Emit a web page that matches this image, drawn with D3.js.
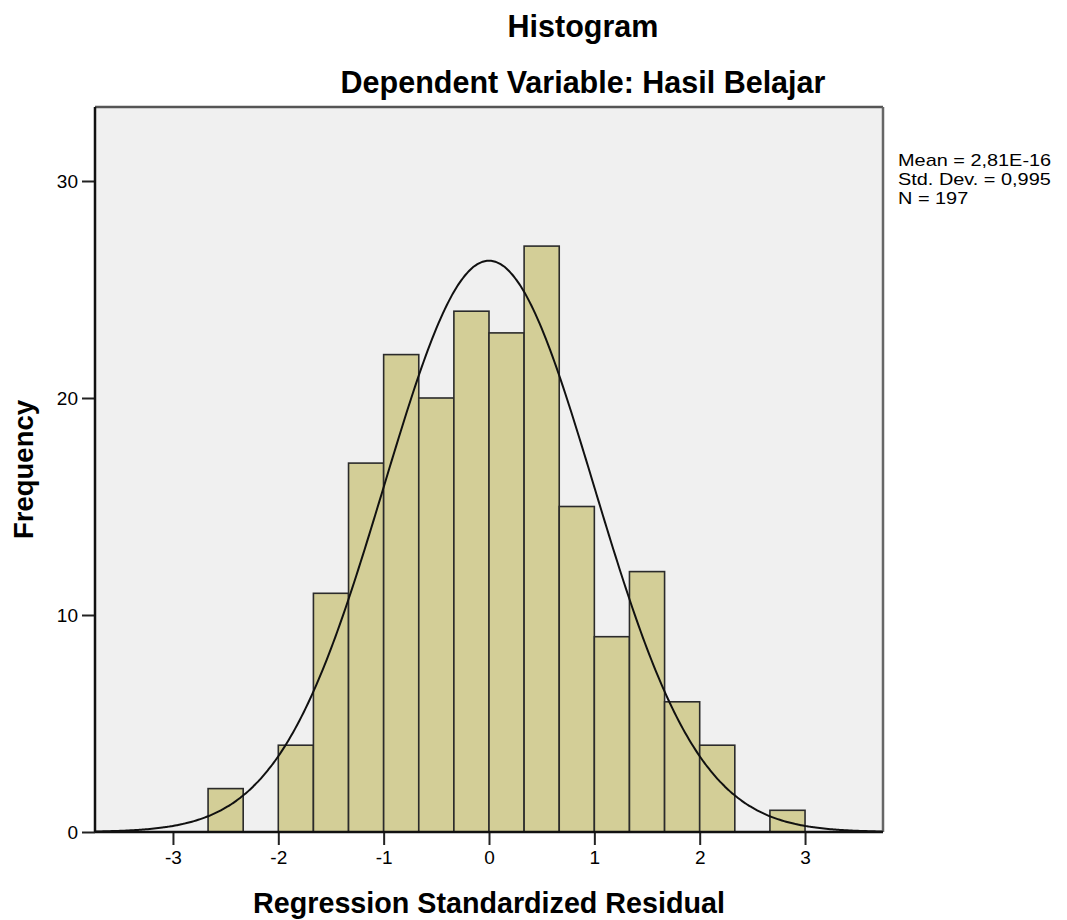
<!DOCTYPE html>
<html>
<head>
<meta charset="utf-8">
<script src="https://cdn.jsdelivr.net/npm/d3@7"></script>
<style>
  body { margin: 0; background: #fff; }
  text { font-family: "Liberation Sans", Arial, sans-serif; fill: #000; }
</style>
</head>
<body>
<div id="chart"></div>
<script>
/* DATA */
const binStart = -8 / 3,
  binWidth = 1 / 3;
// frequency per bin, from -2.667 up to 3.0
const counts = [2, 0, 4, 11, 17, 22, 20, 24, 23, 27, 15, 9, 12, 6, 4, 0, 1];
const xTicks = [-3, -2, -1, 0, 1, 2, 3];
const yTicks = [0, 10, 20, 30];
const statLines = ["Mean = 2,81E-16", "Std. Dev. = 0,995", "N = 197"];
const mean = 2.81e-16, stdDev = 0.995, n = 197;

/* CONSTANTS */
const width = 1067, height = 920,
  plot = { left: 95, right: 883, top: 107, bottom: 832 };

const bins = counts.map((c, i) => ({
  x0: binStart + i * binWidth,
  x1: binStart + (i + 1) * binWidth,
  count: c
}));

const svg = d3.select("#chart").append("svg")
  .attr("width", width)
  .attr("height", height);

// + SCALES
const xScale = d3.scaleLinear()
  .domain([-3.74, 3.74])
  .range([plot.left, plot.right]);

const yScale = d3.scaleLinear()
  .domain([0, 33.41])
  .range([plot.bottom, plot.top]);

// plot background
svg.append("rect")
  .attr("x", plot.left)
  .attr("y", plot.top)
  .attr("width", plot.right - plot.left)
  .attr("height", plot.bottom - plot.top)
  .attr("fill", "#f0f0f0");

// bars
svg.selectAll(".bar")
  .data(bins.filter(d => d.count > 0))
  .join("rect")
  .attr("class", "bar")
  .attr("x", d => xScale(d.x0))
  .attr("y", d => yScale(d.count))
  .attr("width", d => xScale(d.x1) - xScale(d.x0))
  .attr("height", d => yScale(0) - yScale(d.count))
  .attr("fill", "#d3ce97")
  .attr("stroke", "#2b2b2b")
  .attr("stroke-width", 1.6);

// normal curve from the reported mean / sd
const pdf = x => Math.exp(-0.5 * ((x - mean) / stdDev) ** 2) / (stdDev * Math.sqrt(2 * Math.PI));
const curveX = d3.range(-3.74, 3.7401, 0.02);
const lineGen = d3.line()
  .x(x => xScale(x))
  .y(x => yScale(n * binWidth * pdf(x)))
  .curve(d3.curveBasis);

svg.append("path")
  .datum(curveX)
  .attr("d", lineGen)
  .attr("fill", "none")
  .attr("stroke", "#111")
  .attr("stroke-width", 2);

// frame: top/right grey, left/bottom black
svg.append("line")
  .attr("x1", plot.left).attr("x2", plot.right)
  .attr("y1", plot.top).attr("y2", plot.top)
  .attr("stroke", "#555").attr("stroke-width", 2.5);
svg.append("line")
  .attr("x1", plot.right).attr("x2", plot.right)
  .attr("y1", plot.top).attr("y2", plot.bottom)
  .attr("stroke", "#666").attr("stroke-width", 2.5);

// + AXES (plain hyphen for negatives, like SPSS)
const xAxis = d3.axisBottom(xScale)
  .tickValues(xTicks)
  .tickSize(13)
  .tickPadding(6)
  .tickFormat(d => String(d));

const yAxis = d3.axisLeft(yScale)
  .tickValues(yTicks)
  .tickSize(13)
  .tickPadding(4)
  .tickFormat(d => String(d));

const xAxisGroup = svg.append("g")
  .attr("transform", `translate(0, ${plot.bottom})`)
  .call(xAxis);

const yAxisGroup = svg.append("g")
  .attr("transform", `translate(${plot.left}, 0)`)
  .call(yAxis);

[xAxisGroup, yAxisGroup].forEach(g => {
  g.select(".domain").remove();
  g.selectAll(".tick line").attr("stroke", "#222").attr("stroke-width", 2);
  g.selectAll(".tick text")
    .attr("fill", "#111")
    .style("font-size", "19px")
    .style("font-family", "Liberation Sans, Arial, sans-serif");
});

// axis lines drawn on top
svg.append("line")
  .attr("x1", plot.left).attr("x2", plot.left)
  .attr("y1", plot.top).attr("y2", plot.bottom)
  .attr("stroke", "#111").attr("stroke-width", 2.5);
svg.append("line")
  .attr("x1", plot.left).attr("x2", plot.right)
  .attr("y1", plot.bottom).attr("y2", plot.bottom)
  .attr("stroke", "#111").attr("stroke-width", 2.5);

// titles
svg.append("text")
  .attr("x", 583)
  .attr("y", 37)
  .attr("text-anchor", "middle")
  .style("font-size", "30.5px")
  .style("font-weight", "bold")
  .text("Histogram");

svg.append("text")
  .attr("x", 583)
  .attr("y", 93)
  .attr("text-anchor", "middle")
  .style("font-size", "30.5px")
  .style("font-weight", "bold")
  .text("Dependent Variable: Hasil Belajar");

svg.append("text")
  .attr("x", xScale(0))
  .attr("y", 913)
  .attr("text-anchor", "middle")
  .style("font-size", "28.7px")
  .style("font-weight", "bold")
  .text("Regression Standardized Residual");

svg.append("text")
  .attr("transform", `translate(33, ${(plot.top + plot.bottom) / 2}) rotate(-90)`)
  .attr("text-anchor", "middle")
  .style("font-size", "27.5px")
  .style("font-weight", "bold")
  .text("Frequency");

// stats legend (slightly wide lettering, tight lines)
svg.append("g")
  .attr("transform", "translate(898, 0) scale(1.17, 1)")
  .selectAll("text")
  .data(statLines)
  .join("text")
  .attr("x", 0)
  .attr("y", (d, i) => 166 + i * 19)
  .style("font-size", "17px")
  .text(d => d);
</script>
</body>
</html>
